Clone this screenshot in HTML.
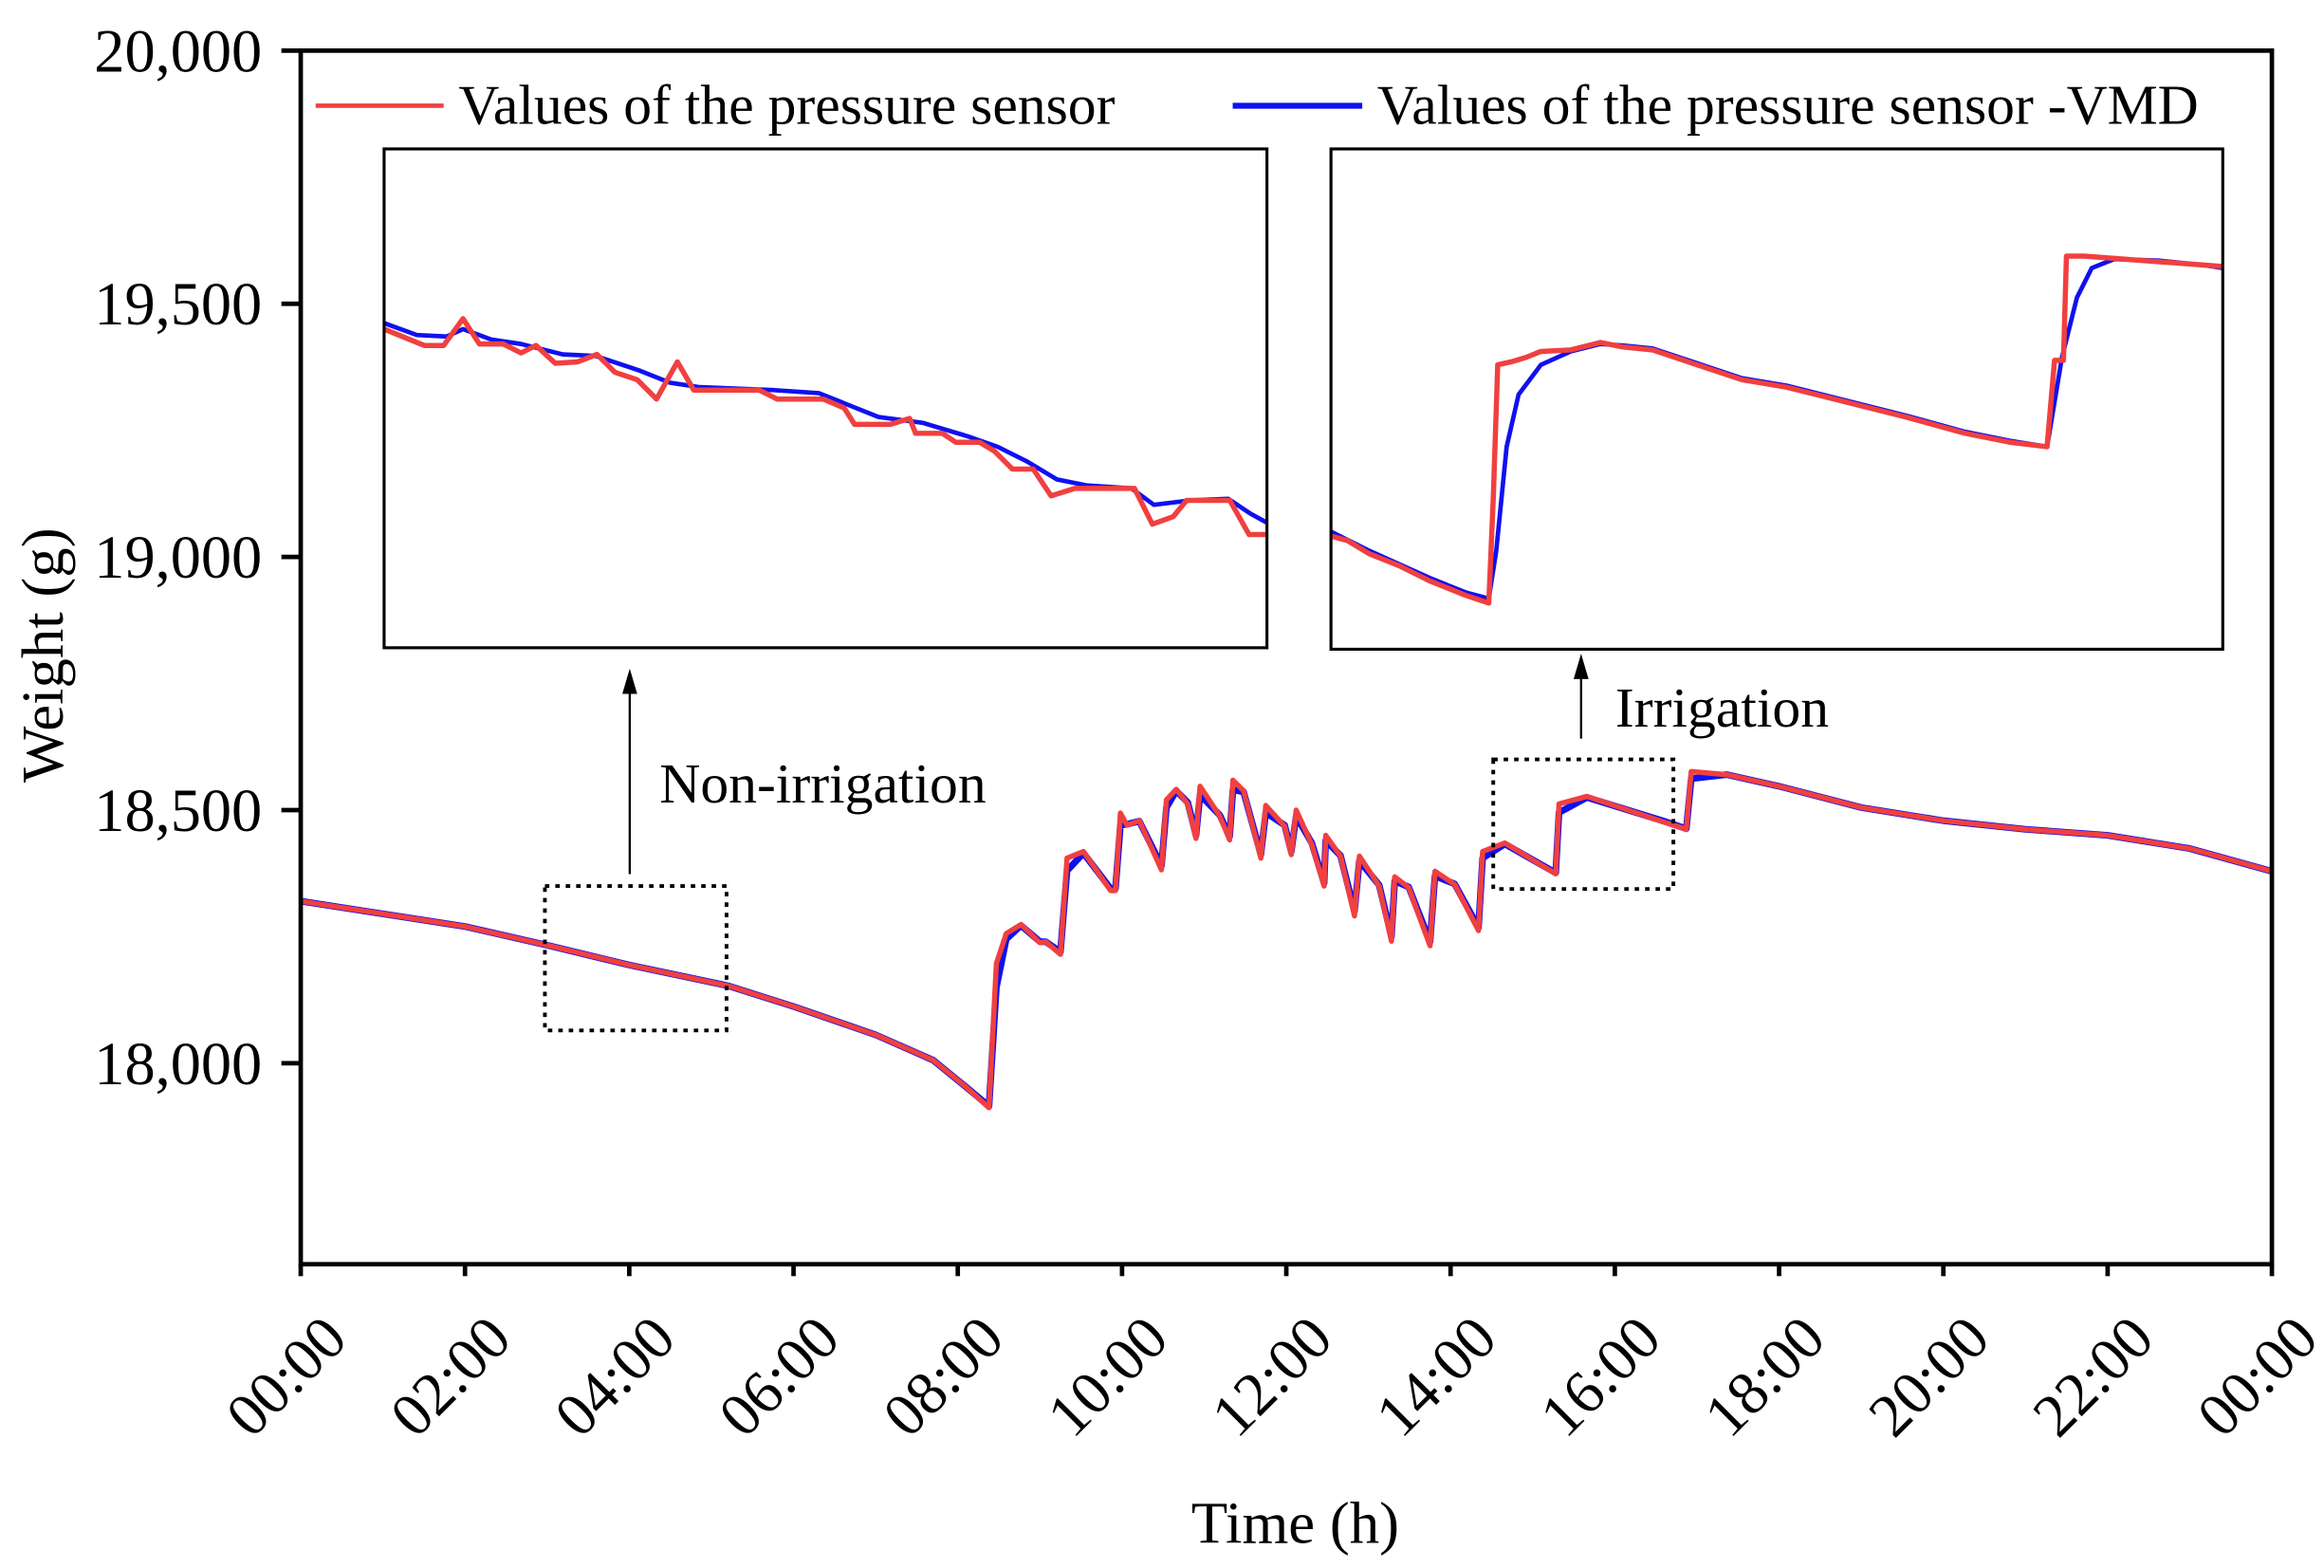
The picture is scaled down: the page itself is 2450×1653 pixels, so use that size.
<!DOCTYPE html>
<html><head><meta charset="utf-8"><style>
html,body{margin:0;padding:0;background:#fff;}
svg{display:block;font-family:"Liberation Serif",serif;}
</style></head><body>
<svg id="chart" width="2450" height="1653" viewBox="0 0 1561 1053" preserveAspectRatio="none" xmlns="http://www.w3.org/2000/svg">
<rect width="1561" height="1053" fill="#fff"/>
<g id="main-series"></g>
<g id="inset1"></g>
<g id="inset2"></g>
<g id="axes"></g>
<g>
<line x1="212" y1="71" x2="298" y2="71" stroke="#f04040" stroke-width="3"/>
<text x="308" y="83" font-size="38">Values of the pressure sensor</text>
<line x1="828" y1="71" x2="915" y2="71" stroke="#1010f0" stroke-width="4"/>
<text x="925" y="83" font-size="38">Values of the pressure sensor -VMD</text>
</g>
<g>
<rect x="366" y="595" width="122" height="97" fill="none" stroke="#000" stroke-width="2.5" stroke-dasharray="3,4"/>
<rect x="1003" y="510" width="121" height="87" fill="none" stroke="#000" stroke-width="2.5" stroke-dasharray="3,4"/>
<line x1="423" y1="587" x2="423" y2="462" stroke="#000" stroke-width="1.5"/>
<polygon points="423,449 418,466 428,466" fill="#000"/>
<line x1="1062" y1="496" x2="1062" y2="452" stroke="#000" stroke-width="1.5"/>
<polygon points="1062,439 1057,456 1067,456" fill="#000"/>
<text x="443" y="539" font-size="38">Non-irrigation</text>
<text x="1085" y="488" font-size="38">Irrigation</text>
</g>
<text transform="translate(42,440) rotate(-90)" text-anchor="middle" font-size="40">Weight (g)</text>
<text x="870" y="1036" text-anchor="middle" font-size="40">Time (h)</text>
</svg>
<script>
// Main chart data (hours, grams)
const hours = [0,1,2,3,4,5.2,6,7,7.7,8.1,8.38,8.47,8.59,8.77,9.0,9.07,9.25,9.33,9.53,9.86,9.92,9.98,10.06,10.21,10.48,10.54,10.66,10.8,10.9,10.95,11.19,11.31,11.35,11.48,11.69,11.75,11.98,12.06,12.12,12.31,12.46,12.48,12.66,12.83,12.89,13.13,13.28,13.32,13.49,13.75,13.81,14.05,14.34,14.39,14.66,15.28,15.32,15.66,16.6,16.87,16.93,17.36,18,19,20,21,22,23,24];
const rawValues = [18320,18295,18270,18233,18194,18153,18112,18056,18006,17953,17912,18197,18256,18274,18238,18240,18215,18405,18418,18341,18341,18494,18470,18479,18382,18520,18541,18512,18444,18547,18488,18441,18559,18538,18405,18509,18468,18412,18500,18432,18350,18450,18409,18291,18409,18350,18241,18368,18347,18232,18379,18353,18262,18418,18435,18374,18512,18527,18476,18462,18576,18570,18547,18505,18479,18462,18450,18424,18379];
const vmdValues = [18320,18295,18270,18233,18194,18153,18112,18056,18006,17953,17915,18150,18245,18272,18240,18240,18220,18380,18415,18345,18345,18470,18472,18478,18390,18505,18538,18515,18450,18530,18490,18448,18540,18536,18412,18495,18470,18418,18488,18435,18356,18440,18410,18300,18400,18352,18250,18360,18348,18240,18370,18354,18268,18405,18433,18376,18495,18525,18478,18463,18562,18570,18547,18505,18479,18462,18450,18424,18379];
const yTicks = [18000,18500,19000,19500,20000];
const yTickLabels = ["18,000","18,500","19,000","19,500","20,000"];
const xTicks = [0,2,4,6,8,10,12,14,16,18,20,22,24];
const xTickLabels = ["00:00","02:00","04:00","06:00","08:00","10:00","12:00","14:00","16:00","18:00","20:00","22:00","00:00"];
// Inset data (relative time index, relative weight units)
const inset1T = [0,27,40,53,64,80,92,102,115,130,143,155,170,183,197,208,222,252,264,295,309,316,340,353,357,375,384,400,410,422,436,448,464,478,504,516,530,539,568,581,593];
const inset1Raw = [214,203,203,221,204,204,198,203,191,192,197,185,180,167,192,173,173,173,167,167,161,150,150,154,144,144,138,138,132,120,120,102,107,107,107,83,88,99,99,76,76];
const inset1VmdT = [0,22,42,53,72,92,120,142,172,192,212,262,292,307,332,362,392,412,432,452,472,502,517,542,567,582,593];
const inset1Vmd = [218,210,209,214,207,204,197,196,186,178,175,173,171,165,155,151,142,135,125,113,109,107,96,99,100,90,84];
const inset2T = [0,11,26,46,66,91,106,109,112,121,131,141,161,181,196,216,246,276,306,346,386,426,456,481,486,492,494,506,546,586,599];
const inset2Raw = [76,73,64,56,46,36,31,101,191,193,196,200,201,206,203,201,191,181,176,166,156,145,139,136,194,194,264,264,261,258,257];
const inset2VmdT = [0,26,66,91,106,111,118,126,141,161,181,196,216,246,276,306,346,386,426,456,481,486,491,501,511,526,556,586,599];
const inset2Vmd = [79,66,48,38,34,66,136,171,191,200,205,204,202,192,182,177,167,157,146,140,136,166,196,236,256,262,261,258,256];

const NS = "http://www.w3.org/2000/svg";
function mk(tag, attrs, parent){const e=document.createElementNS(NS,tag);for(const k in attrs)e.setAttribute(k,attrs[k]);parent.appendChild(e);return e;}
const L=202,R=1526,T=34,B=849;
const xS = h => L + (h/24)*(R-L);
const yS = v => 714 - (v-18000)/500*170;
function pathFrom(xs, ys, fx, fy){return xs.map((x,i)=>(i?"L":"M")+fx(x).toFixed(2)+","+fy(ys[i]).toFixed(2)).join("");}

const ms = document.getElementById("main-series");
const vmdPath = mk("path",{d:pathFrom(hours,vmdValues,xS,yS),fill:"none",stroke:"#1010f0","stroke-width":4.5,"stroke-linejoin":"round"},ms);


const rawPath = mk("path",{d:pathFrom(hours,rawValues,xS,yS),fill:"none",stroke:"#f04040","stroke-width":3.5,"stroke-linejoin":"round"},ms);



// axes
const ax = document.getElementById("axes");
const frame = mk("rect",{x:L,y:T,width:R-L,height:B-T,fill:"none",stroke:"#000","stroke-width":3},ax);


yTicks.forEach((v,i)=>{
  const t = mk("line",{x1:L-13,x2:L,y1:yS(v),y2:yS(v),stroke:"#000","stroke-width":3},ax);
  
  
  const lb = mk("text",{x:L-26,y:yS(v)+14,"text-anchor":"end","font-size":"41"},ax);
  lb.textContent = yTickLabels[i];
  
  
});
xTicks.forEach((h,i)=>{
  const t = mk("line",{x1:xS(h),x2:xS(h),y1:B,y2:B+8,stroke:"#000","stroke-width":3},ax);
  
  
  const lb = mk("text",{transform:"translate("+(xS(h)+12)+","+880+") rotate(-45)","text-anchor":"end",dy:"0.72em","font-size":"41"},ax);
  lb.textContent = xTickLabels[i];
  
  
});

// insets
function drawInset(gid, x0, y0, w, h, tR, vR, tV, vV){
  const g = document.getElementById(gid);
  const fx = t => x0 + t;
  const fy = v => y0 + h - v;
  const cp = "clip-"+gid;
  const defs = mk("defs",{},g);
  const c = mk("clipPath",{id:cp},defs);
  mk("rect",{x:x0,y:y0,width:w,height:h},c);
  const b = mk("path",{d:pathFrom(tV,vV,fx,fy),fill:"none",stroke:"#1010f0","stroke-width":3,"clip-path":"url(#"+cp+")","stroke-linejoin":"round"},g);
  
  
  const r = mk("path",{d:pathFrom(tR,vR,fx,fy),fill:"none",stroke:"#f04040","stroke-width":3.5,"clip-path":"url(#"+cp+")","stroke-linejoin":"round"},g);
  
  
  const f = mk("rect",{x:x0,y:y0,width:w,height:h,fill:"none",stroke:"#000","stroke-width":2},g);
  
  
}
drawInset("inset1",258,100,593,335,inset1T,inset1Raw,inset1VmdT,inset1Vmd);
drawInset("inset2",894,100,599,336,inset2T,inset2Raw,inset2VmdT,inset2Vmd);
</script>
</body></html>
